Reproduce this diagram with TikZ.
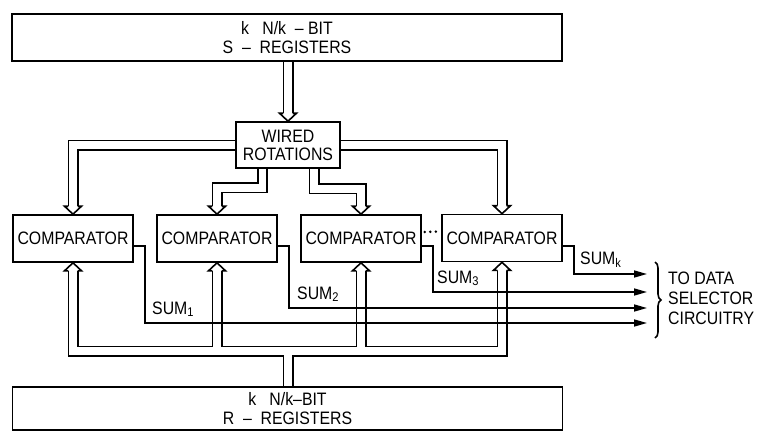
\documentclass[tikz,border=0pt]{standalone}
\usepackage{fontspec}
\setmainfont{Liberation Sans}[FakeStretch=0.88]
\usetikzlibrary{arrows.meta,calc,decorations.pathreplacing}
\pgfdeclarelayer{background}
\pgfsetlayers{background,main}
\begin{document}
\begin{tikzpicture}[x=1pt,y=-1pt,
  lw/.style={line width=1.6pt},
  txt/.style={font=\fontsize{18}{19}\selectfont},
  box/.style={draw,lw,fill=white,inner sep=0pt,txt,align=center},
  comp/.style={box,minimum width=120pt,minimum height=47pt},
  reg/.style={box,minimum width=550pt},
  busout/.style={line width=11pt,line join=miter,line cap=butt,black},
  busin/.style={line width=7.6pt,line join=miter,line cap=butt,white},
  sumline/.style={lw,-{Triangle[length=13pt,width=7pt]}},
  lbl/.style={txt,inner sep=0pt},
  ahead/.pic={\filldraw[fill=white,line width=1.6pt,line join=miter] (-4.6,-8) -- (-8.5,-8) -- (0,0) -- (8.5,-8) -- (4.6,-8);}
]
\useasboundingbox (0,0) rectangle (757,431);

% boxes
\node[reg,minimum height=47pt] (S) at (287,37.5) {k\ \ \ N/k \ –\ BIT\\S \ –\ \ REGISTERS};
\node[reg,minimum height=43pt] (R) at (287.5,408.5) {k\ \ \ N/k–BIT\\R \ –\ \ REGISTERS};
\node[box,minimum width=104pt,minimum height=46pt,font=\fontsize{18}{18}\selectfont] (W) at (288,145) {WIRED\\ROTATIONS};
\node[comp] (c1) at (73,238.5) {COMPARATOR};
\node[comp] (c2) at (217,238.5) {COMPARATOR};
\node[comp] (c3) at (361,238.5) {COMPARATOR};
\node[comp] (c4) at (502,238) {COMPARATOR};

\coordinate (busy) at (0,351);

% double-line buses
\begin{pgfonlayer}{background}
\foreach \st in {busout,busin}{
  \draw[\st] (S.south -| W.north) -- ($(W.north)+(0,-8)$);
  \draw[\st] ($(c1.north)+(0,-8)$) |- (W.center) -| ($(c4.north)+(0,-8)$);
  \draw[\st] ($(W.south)+(-25.5,0)$) -- ++(0,19) -| ($(c2.north)+(0,-8)$);
  \draw[\st] ($(W.south)+(26,0)$) -- ++(0,20) -| ($(c3.north)+(0,-8)$);
  \draw[\st] ($(c1.south)+(0,8)$) -- (c1.south |- busy) -- (c4.south |- busy) -- ($(c4.south)+(0,8)$);
  \draw[\st] ($(c2.south)+(0,8)$) -- (c2.south |- busy);
  \draw[\st] ($(c3.south)+(0,8)$) -- (c3.south |- busy);
  \draw[\st] (R.north -| W.center) -- (W.center |- busy);
}
\end{pgfonlayer}

% arrow heads
\pic at (W.north) {ahead};
\pic at (c1.north) {ahead};
\pic at (c2.north) {ahead};
\pic at (c3.north) {ahead};
\pic at (c4.north) {ahead};
\pic[rotate=180] at (c1.south) {ahead};
\pic[rotate=180] at (c2.south) {ahead};
\pic[rotate=180] at (c3.south) {ahead};
\pic[rotate=180] at (c4.south) {ahead};

% dots between comparators
\draw[line width=2.8pt,line cap=round,dash pattern=on 0pt off 5.5pt] ($(c3.east)+(3,-6.5)$) -- ($(c4.west)+(-2,-6.5)$);

% sum outputs
\coordinate (s1) at (647,323);
\coordinate (s2) at (647,308);
\coordinate (s3) at (647,292);
\coordinate (s4) at (647,274);
\draw[sumline] ($(c1.east)+(0,7.5)$) -- ++(11,0) |- (s1);
\draw[sumline] ($(c2.east)+(0,7.5)$) -- ++(11,0) |- (s2);
\draw[sumline] ($(c3.east)+(0,7.5)$) -- ++(11,0) |- (s3);
\draw[sumline] ($(c4.east)+(0,8)$) -- ++(11,0) |- (s4);

\node[lbl,anchor=base west] (l1) at (152,314) {SUM\textsubscript{1}};
\node[lbl,anchor=base west] (l2) at (297,299) {SUM\textsubscript{2}};
\node[lbl,anchor=base west] (l3) at (437,283) {SUM\textsubscript{3}};
\node[lbl,anchor=base west] (l4) at (580,264) {SUM\textsubscript{k}};

% brace and destination text
\coordinate (b1) at (655,262);
\coordinate (b2) at (655,338);
\draw[lw,decorate,decoration={brace,amplitude=6pt}] (b1) -- (b2);
\node[lbl,anchor=west,align=left,font=\fontsize{18}{20}\selectfont] (dst) at (668,298.5) {TO DATA\\SELECTOR\\CIRCUITRY};
\end{tikzpicture}
\end{document}
